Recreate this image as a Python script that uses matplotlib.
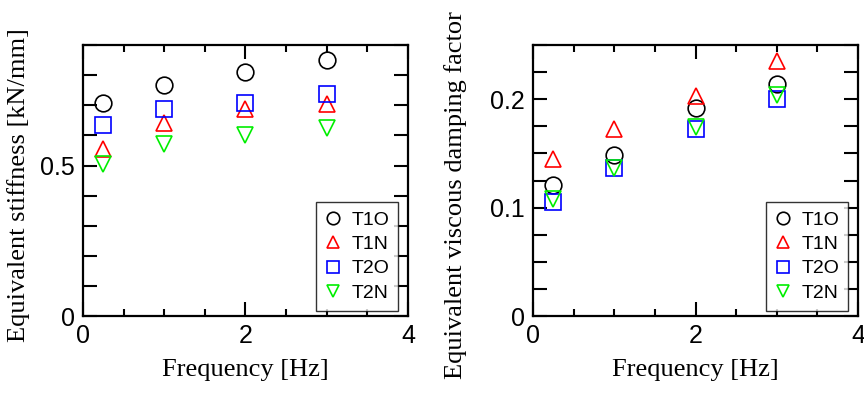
import numpy as np
import matplotlib
matplotlib.use("Agg")
from matplotlib import pyplot as plt
from matplotlib.ticker import MultipleLocator

# data
freq = [0.25, 1, 2, 3]
series = ["T1O", "T1N", "T2O", "T2N"]

stiff_t1o = [0.707, 0.767, 0.810, 0.850]
stiff_t1n = [0.554, 0.642, 0.687, 0.703]
stiff_t2o = [0.636, 0.687, 0.707, 0.739]
stiff_t2n = [0.505, 0.572, 0.601, 0.626]

damp_t1o = [0.121, 0.149, 0.192, 0.2145]
damp_t1n = [0.145, 0.173, 0.203, 0.235]
damp_t2o = [0.105, 0.137, 0.173, 0.2006]
damp_t2n = [0.108, 0.137, 0.174, 0.204]

markers = ["o", "^", "s", "v"]
colors = ["black", "red", "blue", "#00ee00"]

plt.rcParams["font.family"] = ["Liberation Sans", "DejaVu Sans"]

fig = plt.figure(figsize=(8.64, 3.96), dpi=100)
ax1 = fig.add_axes([0.0961, 0.202, 0.376, 0.684])
ax2 = fig.add_axes([0.617, 0.202, 0.376, 0.684])


def style_axis(ax, ylim, ystep, ylabels, ylabel, label_xy):
    ax.set_xlim(0, 4)
    ax.set_ylim(*ylim)
    ax.xaxis.set_major_locator(MultipleLocator(2))
    ax.xaxis.set_minor_locator(MultipleLocator(0.5))
    yt = np.arange(0, ylim[1] + 1e-9, ystep)
    ax.set_yticks(yt)
    ax.set_yticklabels(ylabels)
    ax.tick_params(which="both", direction="in", top=True, right=True,
                   width=1.5, labelsize=18, pad=6)
    ax.tick_params(which="major", length=10)
    ax.tick_params(which="minor", length=5)
    for sp in ax.spines.values():
        sp.set_linewidth(1.6)
    ax.set_xlabel("Frequency [Hz]", family="Liberation Serif", fontsize=19, labelpad=8)
    ax.set_ylabel(ylabel, family="Liberation Serif", fontsize=19)
    ax.yaxis.set_label_coords(*label_xy)


left_data = [stiff_t1o, stiff_t1n, stiff_t2o, stiff_t2n]
right_data = [damp_t1o, damp_t1n, damp_t2o, damp_t2n]

for ax, data in [(ax1, left_data), (ax2, right_data)]:
    for name, vals, m, c in zip(series, data, markers, colors):
        ax.plot(freq, vals, linestyle="none", marker=m, markersize=12,
                markerfacecolor="none", markeredgecolor=c, markeredgewidth=1.2,
                label=name, clip_on=False)
    leg = ax.legend(loc="lower right", bbox_to_anchor=(0.97, 0.02), fontsize=14,
                    markerscale=0.75, frameon=True, fancybox=False,
                    handlelength=0.9, handletextpad=0.5, borderpad=0.45,
                    labelspacing=0.35, borderaxespad=0)
    leg.get_frame().set_edgecolor("black")
    leg.get_frame().set_linewidth(1.0)

style_axis(ax1, (0, 0.9), 0.1,
           ["0", "", "", "", "", "0.5", "", "", "", ""],
           "Equivalent stiffness [kN/mm]", (-0.163, 0.483))
style_axis(ax2, (0, 0.25), 0.025,
           ["0", "", "", "", "0.1", "", "", "", "0.2", "", ""],
           "Equivalent viscous damping factor", (-0.203, 0.446))

fig.savefig("out.png", dpi=100)
